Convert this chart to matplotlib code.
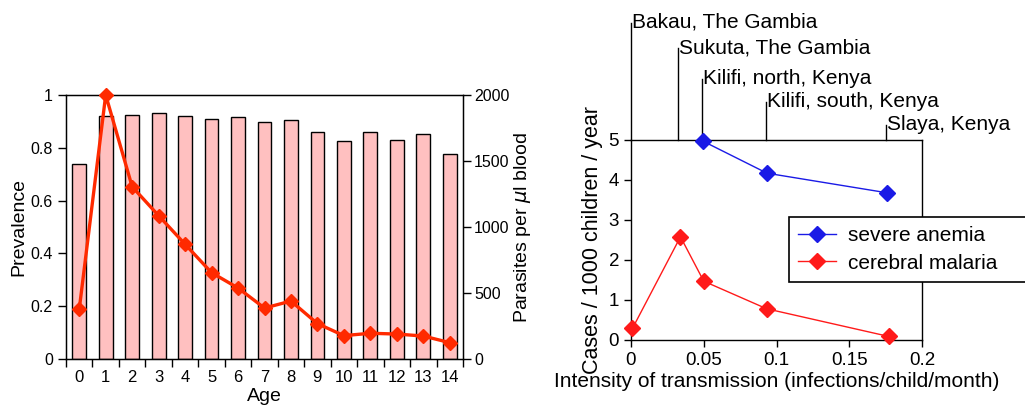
import matplotlib
matplotlib.use("Agg")
import matplotlib.pyplot as plt
import numpy as np

plt.rcParams['font.family'] = ['Liberation Sans', 'DejaVu Sans']

# ---- Left chart data ----
ages = list(range(15))
prevalence = [0.739, 0.92, 0.924, 0.93, 0.92, 0.908, 0.918, 0.899, 0.905,
              0.859, 0.827, 0.859, 0.830, 0.853, 0.778]
parasites = [376, 2000, 1305, 1086, 869, 654, 538, 386, 439,
             268, 177, 195, 189, 174, 124]

# ---- Right chart data ----
anemia_x = [0.0495, 0.0935, 0.176]
anemia_y = [4.97, 4.17, 3.68]
cerebral_x = [0.001, 0.034, 0.050, 0.0933, 0.177]
cerebral_y = [0.29, 2.58, 1.47, 0.78, 0.09]
sites = ["Bakau, The Gambia", "Sukuta, The Gambia", "Kilifi, north, Kenya",
         "Kilifi, south, Kenya", "Slaya, Kenya"]
site_x = [0.0, 0.032, 0.049, 0.0926, 0.175]

W, H = 1025, 405
fig = plt.figure(figsize=(W / 100, H / 100), dpi=100)

# ================= Left chart =================
ax1 = fig.add_axes([66 / W, 1 - 359 / H, (463 - 66) / W, (359 - 95) / H])
ax1.bar(ages, prevalence, width=0.52, color='#ffc0c0', edgecolor='black', linewidth=1.0, zorder=2)
ax1.set_xlim(-0.5, 14.5)
ax1.set_ylim(0, 1)
ax1.set_yticks([0, 0.2, 0.4, 0.6, 0.8, 1])
ax1.set_yticklabels(['0', '0.2', '0.4', '0.6', '0.8', '1'])
ax1.set_xticks(ages)
ax1.set_xticks(np.arange(-0.5, 15, 1), minor=True)
ax1.tick_params(axis='x', which='major', length=0, labelsize=12, pad=8)
ax1.tick_params(axis='x', which='minor', length=6, direction='out', width=1)
ax1.tick_params(axis='y', length=6, direction='out', labelsize=11.5, width=1)
ax1.set_ylabel('Prevalence', fontsize=14, labelpad=2)
ax1.set_xlabel('Age', fontsize=14, labelpad=2)
for s in ax1.spines.values():
    s.set_linewidth(1.0)

ax2 = ax1.twinx()
ax2.plot(ages, parasites, color='#ff2a00', linewidth=2.4, marker='D', markersize=7.5,
         zorder=3, clip_on=False)
ax2.set_ylim(0, 2000)
ax2.set_yticks([0, 500, 1000, 1500, 2000])
ax2.tick_params(axis='y', length=6, direction='out', labelsize=11.5, width=1, pad=2)
ax2.set_ylabel(r'Parasites per $\mu$l blood', fontsize=14, labelpad=2)
ax2.set_xlim(-0.5, 14.5)

# ================= Right chart =================
ax3 = fig.add_axes([631 / W, 1 - 340 / H, (922 - 631) / W, (340 - 140) / H])
ax3.plot(anemia_x, anemia_y, color='#1a1ae6', linewidth=1.0, marker='D', markersize=8,
         label='severe anemia', clip_on=False, zorder=3)
ax3.plot(cerebral_x, cerebral_y, color='#ff1a1a', linewidth=1.0, marker='D', markersize=8,
         label='cerebral malaria', clip_on=False, zorder=3)
ax3.set_xlim(0, 0.2)
ax3.set_ylim(0, 5)
ax3.set_xticks([0, 0.05, 0.1, 0.15, 0.2])
ax3.set_xticklabels(['0', '0.05', '0.1', '0.15', '0.2'])
ax3.set_yticks([0, 1, 2, 3, 4, 5])
ax3.tick_params(axis='both', length=5, direction='out', labelsize=13.5, width=1)
ax3.set_xlabel('Intensity of transmission (infections/child/month)', fontsize=15, labelpad=2)
ax3.set_ylabel('Cases / 1000 children / year', fontsize=15.5, labelpad=4)
for s in ax3.spines.values():
    s.set_linewidth(1.0)

site_top = [7.93, 7.3, 6.53, 5.95, 5.38]
for name, x, yt in zip(sites, site_x, site_top):
    ax3.plot([x, x], [5, yt], color='black', linewidth=1.0, clip_on=False)
    ax3.annotate(name, xy=(x, yt), xytext=(1, -5), textcoords='offset pixels',
                 ha='left', va='baseline', fontsize=15, annotation_clip=False)

leg = fig.legend(handles=ax3.get_lines()[:2], loc='upper left', mode='expand',
                 bbox_to_anchor=(789 / W, 1 - 284 / H, (1030 - 789) / W, (284 - 217) / H),
                 fontsize=15,
                 frameon=True, fancybox=False, edgecolor='black', framealpha=1,
                 handlelength=1.8, borderpad=0.45, labelspacing=0.4, handletextpad=0.6,
                 borderaxespad=0)
leg.get_frame().set_linewidth(1.2)

fig.savefig('out.png', dpi=100)
